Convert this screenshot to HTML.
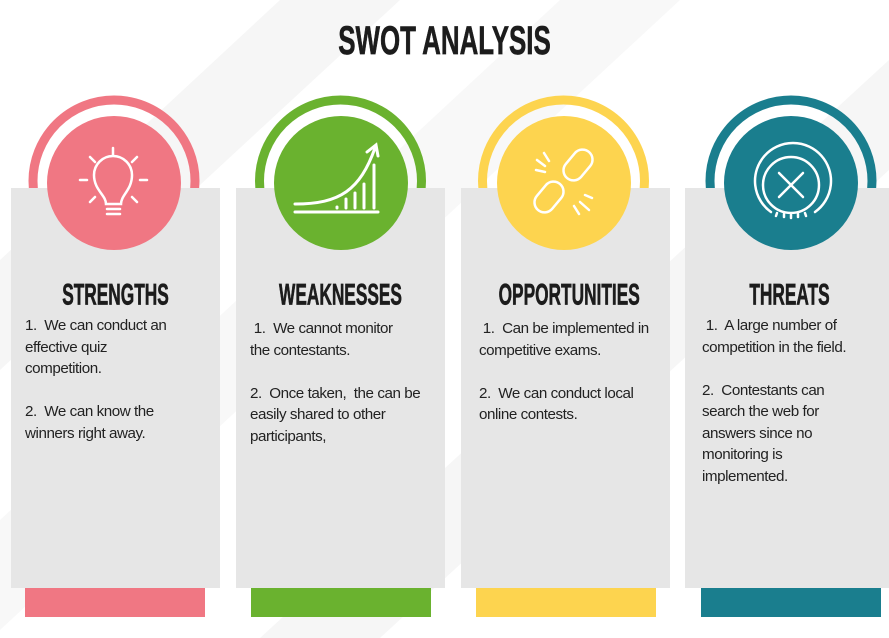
<!DOCTYPE html>
<html><head><meta charset="utf-8"><style>
html,body{margin:0;padding:0}
body{width:889px;height:638px;position:relative;overflow:hidden;background:#fff;font-family:"Liberation Sans",sans-serif}
.abs{position:absolute}
.card{position:absolute;top:188px;width:209px;height:400px;background:#e6e6e6}
.bar{position:absolute;top:588px;width:180px;height:29px}
.head{position:absolute;top:280px;width:209px;text-align:center;font-family:"Liberation Sans",sans-serif;font-weight:bold;font-size:27px;color:#1c1c1c;transform:scale(0.64,1.08);letter-spacing:0px;-webkit-text-stroke:0.6px #1c1c1c}
.txt{position:absolute;font-size:15.2px;line-height:21.5px;color:#222;letter-spacing:-0.45px;white-space:pre}
</style></head><body>
<svg class="abs" style="left:0;top:0" width="889" height="638">
<polygon points="0,260 280,0 400,0 0,370" fill="#f6f6f6"/>
<polygon points="260,638 889,60 889,170 380,638" fill="#f6f6f6"/>
<polygon points="560,0 680,0 0,630 0,520" fill="#f8f8f8"/>
</svg>
<div class="abs" style="left:0;top:20px;width:889px;text-align:center;font-family:'Liberation Sans',sans-serif;font-weight:bold;font-size:37px;color:#1c1c1c;transform:scale(0.7,1.08);-webkit-text-stroke:0.6px #1c1c1c">SWOT ANALYSIS</div>

<svg class="abs" style="left:0;top:0" width="889" height="260">
<circle cx="114" cy="181" r="81" fill="none" stroke="#f07783" stroke-width="9"/>
<circle cx="340.5" cy="181" r="81" fill="none" stroke="#6ab22f" stroke-width="9"/>
<circle cx="563.5" cy="181" r="81" fill="none" stroke="#fdd44f" stroke-width="9"/>
<circle cx="791" cy="181" r="81" fill="none" stroke="#1a7e8e" stroke-width="9"/>
</svg>

<div class="card" style="left:11px"></div>
<div class="card" style="left:236px"></div>
<div class="card" style="left:461px"></div>
<div class="card" style="left:685px"></div>

<svg class="abs" style="left:0;top:0" width="889" height="260">
<circle cx="114" cy="183" r="67" fill="#f07783"/>
<g stroke="#fff" stroke-width="2.5" fill="none" stroke-linecap="round">
<path d="M106,204 C106,195 94,190 94,175 A19,19 0 1 1 132,175 C132,190 121,195 121,204 Z"/>
<path d="M107,209 H120 M107,214 H120"/>
<path d="M113,148 V155 M90,157 L95,162 M137,157 L132,162 M80,180 H87 M140,180 H147 M90,202 L95,197 M137,202 L132,197"/>
</g>
<circle cx="341" cy="183" r="67" fill="#6ab22f"/>
<g stroke="#fff" stroke-width="3" fill="none" stroke-linecap="round">
<path d="M295,212 H378"/>
<path d="M295,204 C340,204 360,190 375,148"/>
<path d="M367,152 L376,145 L378,156"/>
<path d="M337,208 V207 M346,208 V199 M355,208 V193 M364,208 V184 M374,208 V165"/>
</g>
<circle cx="564" cy="183" r="67" fill="#fdd44f"/>
<g stroke="#fff" stroke-width="2.5" fill="none" stroke-linecap="round">
<rect x="568" y="148" width="20" height="34" rx="10" transform="rotate(40 578 165)"/>
<rect x="539" y="180" width="20" height="34" rx="10" transform="rotate(40 549 197)"/>
<path d="M537,160 L545,166 M544,153 L549,161 M536,170 L545,172 M580,202 L589,210 M585,195 L592,198 M574,206 L579,214"/>
</g>
<circle cx="791" cy="183" r="67" fill="#1a7e8e"/>
<g stroke="#fff" stroke-width="2.5" fill="none" stroke-linecap="round">
<circle cx="791" cy="185" r="28"/>
<path d="M771,212 A38,38 0 1 1 815,212"/>
<path d="M777,213 L776,216 M784,214 L784,217 M791,215 V218 M798,214 L798,217 M805,213 L806,216"/>
<path d="M779,173 L803,197 M803,173 L779,197"/>
</g>
</svg>

<div class="head" style="left:11px">STRENGTHS</div>
<div class="head" style="left:236px">WEAKNESSES</div>
<div class="head" style="left:461px">OPPORTUNITIES</div>
<div class="head" style="left:685px">THREATS</div>

<div class="txt" style="left:25px;top:315px">1.  We can conduct an
effective quiz
competition.

2.  We can know the
winners right away.</div>
<div class="txt" style="left:250px;top:318px"> 1.  We cannot monitor
the contestants.

2.  Once taken,  the can be
easily shared to other
participants,</div>
<div class="txt" style="left:479px;top:318px"> 1.  Can be implemented in
competitive exams.

2.  We can conduct local
online contests.</div>
<div class="txt" style="left:702px;top:315px"> 1.  A large number of
competition in the field.

2.  Contestants can
search the web for
answers since no
monitoring is
implemented.</div>

<div class="bar" style="left:25px;background:#f07783"></div>
<div class="bar" style="left:251px;background:#6ab22f"></div>
<div class="bar" style="left:476px;background:#fdd44f"></div>
<div class="bar" style="left:701px;background:#1a7e8e"></div>
</body></html>
